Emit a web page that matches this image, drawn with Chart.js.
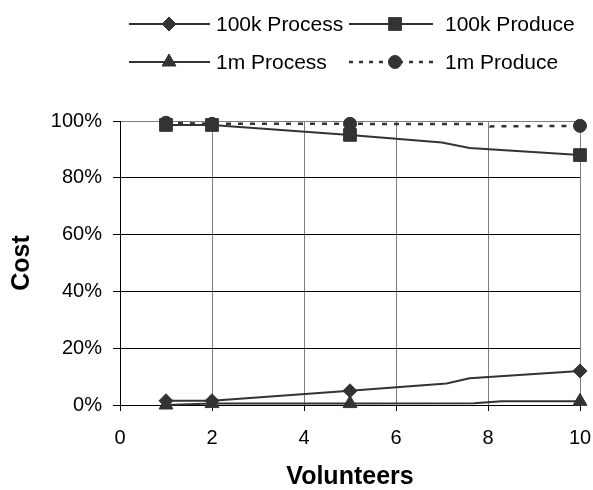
<!DOCTYPE html>
<html>
<head>
<meta charset="utf-8">
<script src="https://cdn.jsdelivr.net/npm/chart.js@4/dist/chart.umd.min.js"></script>
<style>
  body { margin: 0; background: #fff; }
</style>
</head>
<body>
<canvas id="costChart" width="593" height="490"></canvas>
<script>
// volunteers where Excel put a marker
const markerX = [1, 2, 5, 10]

// (kinks in the lines included)
const process100kX = [1, 2, 5, 7.1, 7.6, 10]
const process100kY = [1.5, 1.5, 5, 7.6, 9.4, 12]
const produce100kX = [1, 2, 5, 7.0, 7.6, 10]
const produce100kY = [98.6, 98.6, 95.1, 92.4, 90.5, 88]
const process1mX = [1, 2, 5, 7.7, 8.3, 10]
const process1mY = [0, 0.5, 0.5, 0.6, 1.3, 1.3]
const produce1mX = [1, 2, 5, 7.95, 8.05, 10]
const produce1mY = [99.4, 99, 99, 98.9, 98.1, 98.3]

const xTicks = [0, 2, 4, 6, 8, 10]
const yTicks = [0, 20, 40, 60, 80, 100]

const ink = "#333333"
const fontFamily = "'Liberation Sans', Arial, sans-serif"

const toPoints = (xs, ys) => xs.map((x, i) => ({x: x, y: ys[i]}))

function series(label, xs, ys, style, radius, dash)
{
    return {
        label: label,
        data: toPoints(xs, ys),
        borderColor: ink,
        backgroundColor: ink,
        borderWidth: dash ? 2.5 : 2,
        borderDash: dash || [],
        tension: 0,
        clip: false,
        pointStyle: style,
        pointRadius: c => markerX.includes(c.raw.x) ? radius : 0,
        pointHoverRadius: c => markerX.includes(c.raw.x) ? radius : 0,
        pointBorderWidth: 1,
        pointBackgroundColor: ink,
        pointBorderColor: ink,
        legendRadius: radius,
    }
}

// legend in two aligned columns, like the Excel one
const gridLegend = {
    id: "gridLegend",
    afterDraw(chart)
    {
        const ctx = chart.ctx
        const rows = [24, 62]
        const cols = [{x0: 129, x1: 210, m: 169, t: 216}, {x0: 349, x1: 433, m: 395, t: 445}]
        chart.data.datasets.forEach((ds, i) =>
        {
            const c = cols[i % 2]
            const y = rows[Math.floor(i / 2)]
            ctx.save()
            ctx.strokeStyle = ds.borderColor
            ctx.lineWidth = ds.borderWidth
            ctx.setLineDash(ds.borderDash.length ? [4, 6] : [])
            ctx.beginPath()
            ctx.moveTo(c.x0, y)
            ctx.lineTo(c.x1, y)
            ctx.stroke()
            ctx.setLineDash([])
            ctx.fillStyle = ink
            ctx.strokeStyle = ink
            ctx.lineWidth = 1
            Chart.helpers.drawPoint(ctx, {pointStyle: ds.pointStyle, radius: ds.legendRadius, rotation: 0, borderWidth: 1}, c.m, y)
            ctx.fillStyle = "#000"
            ctx.font = "21px " + fontFamily
            ctx.textBaseline = "middle"
            ctx.textAlign = "left"
            ctx.fillText(ds.label, c.t, y + 1)
            ctx.restore()
        })
    }
}

const graphConfig = {
    type: "line",
    data: {
        datasets: [
            series("100k Process", process100kX, process100kY, "rectRot", 7),
            series("100k Produce", produce100kX, produce100kY, "rect", 9),
            series("1m Process", process1mX, process1mY, "triangle", 8),
            series("1m Produce", produce1mX, produce1mY, "circle", 6.5, [5, 7]),
        ],
    },
    options: {
        responsive: false,
        animation: false,
        layout: {
            autoPadding: false,
            padding: {top: 121, right: 13, left: 0, bottom: 0},
        },
        plugins: {
            legend: {display: false},
            tooltip: {enabled: false},
        },
        scales: {
            x: {
                type: "linear",
                min: 0,
                max: 10,
                afterFit: s =>
                {
                    s.height = 85
                    s.paddingLeft = 0
                    s.paddingRight = 0
                },
                afterBuildTicks: s => { s.ticks = xTicks.map(v => ({value: v})) },
                ticks: {
                    color: "#000",
                    padding: 15,
                    font: {family: fontFamily, size: 20},
                },
                grid: {
                    color: "#808080",
                    lineWidth: 1,
                    tickColor: "#000",
                    tickLength: 6,
                },
                border: {color: "#000", width: 1},
                title: {
                    display: true,
                    text: "Volunteers",
                    color: "#000",
                    padding: 0,
                    font: {family: fontFamily, size: 25, weight: "bold", lineHeight: 1},
                },
            },
            y: {
                min: 0,
                max: 100,
                afterFit: s =>
                {
                    s.width = 120
                    s.paddingTop = 0
                    s.paddingBottom = 0
                },
                afterBuildTicks: s => { s.ticks = yTicks.map(v => ({value: v})) },
                ticks: {
                    color: "#000",
                    padding: 11,
                    font: {family: fontFamily, size: 20},
                    callback: v => v + "%",
                },
                grid: {
                    color: c => c.tick && c.tick.value === 100 ? "#808080" : "#000",
                    lineWidth: 1,
                    tickColor: "#000",
                    tickLength: 7,
                },
                border: {color: "#000", width: 1},
                title: {
                    display: true,
                    text: "Cost",
                    color: "#000",
                    padding: {top: 10, bottom: 0},
                    font: {family: fontFamily, size: 25, weight: "bold", lineHeight: 1},
                },
            },
        },
    },
    plugins: [gridLegend],
}

const ctx = document.getElementById("costChart")
const costChart = new Chart(ctx, graphConfig)
</script>
</body>
</html>
